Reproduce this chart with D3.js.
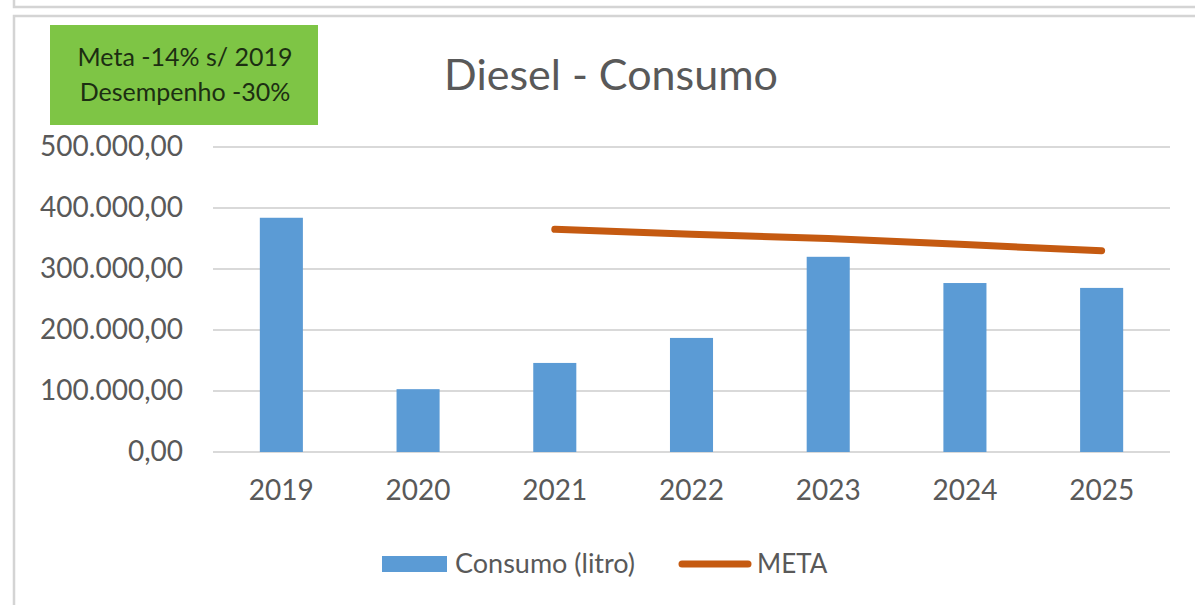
<!DOCTYPE html>
<html>
<head>
<meta charset="utf-8">
<script src="https://cdn.jsdelivr.net/npm/d3@7"></script>
<style>
  body { margin: 0; background: #fff; }
  svg { display: block; font-family: Lato, "Open Sans", sans-serif; }
</style>
</head>
<body>
<div id="grafica"></div>
<script>
// datos
var anos = ["2019", "2020", "2021", "2022", "2023", "2024", "2025"];
var consumo = [384000, 103000, 146000, 187000, 320000, 277000, 269000];
var meta = [null, null, 365000, 357000, 350000, 340000, 330000];
var ticksY = [0, 100000, 200000, 300000, 400000, 500000];
var titulo = "Diesel - Consumo";
var notas = ["Meta -14% s/ 2019", "Desempenho -30%"];
var leyenda = ["Consumo (litro)", "META"];

var ancho = 1195, alto = 605;
var margen = { left: 213, right: 25, top: 147, bottom: 153 };

var svg = d3.select("#grafica").append("svg")
    .attr("width", ancho)
    .attr("height", alto);

// bordes de los paneles
svg.append("path")
    .attr("d", "M14,0V7H" + ancho)
    .attr("fill", "none")
    .attr("stroke", "#d4d4d4")
    .attr("stroke-width", 2.5);
svg.append("path")
    .attr("d", "M14," + alto + "V16H" + ancho)
    .attr("fill", "none")
    .attr("stroke", "#d4d4d4")
    .attr("stroke-width", 2.5);

var x = d3.scaleBand()
    .domain(anos)
    .range([margen.left, ancho - margen.right])
    .paddingInner(0.685)
    .paddingOuter(0.3425);

var y = d3.scaleLinear()
    .domain([0, 500000])
    .range([alto - margen.bottom, margen.top]);

var formato = function (v) {
    return d3.format(",.2f")(v).replace(/,/g, "#").replace(".", ",").replace(/#/g, ".");
};

// lineas de cuadricula
svg.append("g")
    .selectAll("line")
    .data(ticksY)
    .enter().append("line")
    .attr("x1", margen.left)
    .attr("x2", ancho - margen.right)
    .attr("y1", function (d) { return y(d); })
    .attr("y2", function (d) { return y(d); })
    .attr("stroke", "#d9d9d9")
    .attr("stroke-width", 2);

// eje y
var ejeY = svg.append("g")
    .attr("transform", "translate(" + 183 + ",0)")
    .call(d3.axisLeft(y).tickValues(ticksY).tickFormat(formato).tickSize(0).tickPadding(0));
ejeY.select(".domain").remove();
ejeY.selectAll("text")
    .attr("fill", "#595959")
    .style("font-size", "28px")
    .style("font-family", "Lato, sans-serif");

// eje x
var ejeX = svg.append("g")
    .attr("transform", "translate(0," + y(0) + ")")
    .call(d3.axisBottom(x).tickSize(0).tickPadding(28));
ejeX.select(".domain").remove();
ejeX.selectAll("text")
    .attr("fill", "#595959")
    .style("font-size", "28px")
    .style("font-family", "Lato, sans-serif");

// barras
svg.append("g")
    .selectAll("rect")
    .data(consumo)
    .enter().append("rect")
    .attr("x", function (d, i) { return x(anos[i]); })
    .attr("y", function (d) { return y(d); })
    .attr("width", x.bandwidth())
    .attr("height", function (d) { return y(0) - y(d); })
    .attr("fill", "#5b9bd5");

// linea de meta
var linea = d3.line()
    .defined(function (d) { return d != null; })
    .x(function (d, i) { return x(anos[i]) + x.bandwidth() / 2; })
    .y(function (d) { return y(d); });

svg.append("path")
    .datum(meta)
    .attr("d", linea)
    .attr("fill", "none")
    .attr("stroke", "#c55a11")
    .attr("stroke-width", 7)
    .attr("stroke-linecap", "round")
    .attr("stroke-linejoin", "round");

// titulo
svg.append("text")
    .attr("x", 611)
    .attr("y", 90)
    .attr("text-anchor", "middle")
    .attr("fill", "#595959")
    .style("font-size", "43px")
    .text(titulo);

// recuadro verde
svg.append("rect")
    .attr("x", 50)
    .attr("y", 25)
    .attr("width", 268)
    .attr("height", 100)
    .attr("fill", "#7ec545");

svg.selectAll("text.nota")
    .data(notas)
    .enter().append("text")
    .attr("class", "nota")
    .attr("x", 185)
    .attr("y", function (d, i) { return 66 + i * 35; })
    .attr("text-anchor", "middle")
    .attr("fill", "#1c2e12")
    .style("font-size", "25px")
    .text(function (d) { return d; });

// leyenda
var ley = svg.append("g");
ley.append("rect")
    .attr("x", 382)
    .attr("y", 556)
    .attr("width", 65)
    .attr("height", 16)
    .attr("fill", "#5b9bd5");
ley.append("text")
    .attr("x", 455)
    .attr("y", 573)
    .attr("fill", "#595959")
    .style("font-size", "27px")
    .text(leyenda[0]);
ley.append("line")
    .attr("x1", 682)
    .attr("x2", 748)
    .attr("y1", 564)
    .attr("y2", 564)
    .attr("stroke", "#c55a11")
    .attr("stroke-width", 7)
    .attr("stroke-linecap", "round");
ley.append("text")
    .attr("x", 757)
    .attr("y", 573)
    .attr("fill", "#595959")
    .style("font-size", "26px")
    .text(leyenda[1]);
</script>
</body>
</html>
